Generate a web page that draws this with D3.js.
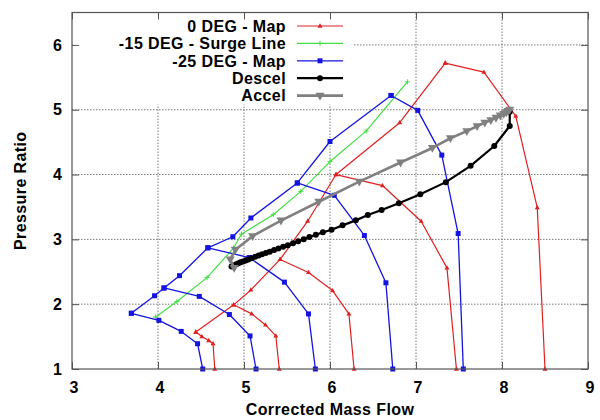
<!DOCTYPE html>
<html>
<head>
<meta charset="utf-8">
<script src="https://cdn.jsdelivr.net/npm/d3@7"></script>
<style>
  html, body { margin: 0; padding: 0; background: #fff; }
  svg { display: block; }
  text { font-family: "Liberation Sans", Arial, Helvetica, sans-serif; font-weight: bold; fill: #000; }
</style>
</head>
<body>
<svg id="chart" width="600" height="420"></svg>
<script>
// Axis ticks
const xTicks = [3, 4, 5, 6, 7, 8, 9];
const yTicks = [1, 2, 3, 4, 5, 6];

// 0 DEG compressor map: surge line and constant-speed lines
const deg0SurgeX = [4.44, 4.88, 5.08, 5.42, 5.74, 6.07, 6.81, 7.34];
const deg0SurgeY = [1.57, 1.99, 2.22, 2.69, 3.28, 4.00, 4.80, 5.72];
const deg0Speed1X = [4.44, 4.51, 4.59, 4.64, 4.66];
const deg0Speed1Y = [1.57, 1.50, 1.44, 1.39, 1.00];
const deg0Speed2X = [4.88, 5.09, 5.25, 5.37, 5.41];
const deg0Speed2Y = [1.99, 1.85, 1.68, 1.51, 1.00];
const deg0Speed3X = [5.42, 5.75, 6.03, 6.22, 6.28];
const deg0Speed3Y = [2.69, 2.49, 2.21, 1.85, 1.00];
const deg0Speed4X = [6.07, 6.61, 7.06, 7.36, 7.47];
const deg0Speed4Y = [4.00, 3.83, 3.28, 2.56, 1.00];
const deg0Speed5X = [7.34, 7.79, 8.16, 8.41, 8.50];
const deg0Speed5Y = [5.72, 5.58, 4.90, 3.49, 1.00];

// -15 DEG surge line
const deg15SurgeX = [3.97, 4.22, 4.57, 4.88, 4.97, 5.34, 5.66, 6.00, 6.42, 6.90];
const deg15SurgeY = [1.80, 2.04, 2.41, 2.87, 3.08, 3.38, 3.74, 4.20, 4.67, 5.43];

// -25 DEG compressor map: surge line and constant-speed lines
const deg25SurgeX = [3.69, 3.96, 4.07, 4.25, 4.58, 4.87, 5.08, 5.62, 6.00, 6.71];
const deg25SurgeY = [1.86, 2.13, 2.25, 2.44, 2.87, 3.04, 3.33, 3.87, 4.51, 5.22];
const deg25Speed1X = [3.69, 4.01, 4.27, 4.46, 4.52];
const deg25Speed1Y = [1.86, 1.75, 1.58, 1.39, 1.00];
const deg25Speed2X = [4.07, 4.48, 4.83, 5.07, 5.14];
const deg25Speed2Y = [2.25, 2.12, 1.84, 1.51, 1.00];
const deg25Speed3X = [4.58, 5.06, 5.47, 5.75, 5.83];
const deg25Speed3Y = [2.87, 2.72, 2.34, 1.85, 1.00];
const deg25Speed4X = [5.62, 6.05, 6.40, 6.65, 6.73];
const deg25Speed4Y = [3.87, 3.68, 3.06, 2.33, 1.00];
const deg25Speed5X = [6.71, 7.02, 7.30, 7.49, 7.55];
const deg25Speed5Y = [5.22, 4.99, 4.30, 3.09, 1.00];

// Deceleration transient
const descelX = [8.09, 8.09, 7.91, 7.635, 7.347, 7.05, 6.80, 6.60, 6.44, 6.30, 6.146, 6.018,
  5.917, 5.835, 5.76, 5.695, 5.63, 5.57, 5.51, 5.455, 5.40, 5.35, 5.30, 5.255, 5.21, 5.17,
  5.13, 5.09, 5.05, 5.02, 4.99, 4.96, 4.935, 4.91, 4.89, 4.87, 4.855];
const descelY = [4.97, 4.75, 4.44, 4.135, 3.883, 3.697, 3.557, 3.453, 3.375, 3.293, 3.216, 3.149,
  3.108, 3.07, 3.035, 3.00, 2.97, 2.94, 2.91, 2.885, 2.86, 2.835, 2.81, 2.79, 2.77, 2.75,
  2.73, 2.71, 2.69, 2.675, 2.66, 2.645, 2.63, 2.615, 2.60, 2.59, 2.58];

// Acceleration transient
const accelX = [4.885, 4.84, 4.90, 5.10, 5.43, 5.87, 6.34, 6.82, 7.19, 7.40, 7.59, 7.71,
  7.80, 7.87, 7.93, 7.98, 8.02, 8.05, 8.07, 8.09];
const accelY = [2.56, 2.69, 2.84, 3.05, 3.29, 3.58, 3.89, 4.185, 4.41, 4.56, 4.67, 4.745,
  4.80, 4.84, 4.875, 4.91, 4.935, 4.96, 4.98, 5.00];

const seriesNames = ["0 DEG - Map", "-15 DEG - Surge Line", "-25 DEG - Map", "Descel", "Accel"];

const zip = (xs, ys) => xs.map((x, i) => [x, ys[i]]);

const series = [
  { name: seriesNames[0], color: "#e02020", width: 1.2, marker: "tri", msize: 5,
    parts: [zip(deg0SurgeX, deg0SurgeY), zip(deg0Speed1X, deg0Speed1Y), zip(deg0Speed2X, deg0Speed2Y),
            zip(deg0Speed3X, deg0Speed3Y), zip(deg0Speed4X, deg0Speed4Y), zip(deg0Speed5X, deg0Speed5Y)] },
  { name: seriesNames[1], color: "#44dd44", width: 1.2, marker: "plus", msize: 5,
    parts: [zip(deg15SurgeX, deg15SurgeY)] },
  { name: seriesNames[2], color: "#1414e0", width: 1.3, marker: "square", msize: 5,
    parts: [zip(deg25SurgeX, deg25SurgeY), zip(deg25Speed1X, deg25Speed1Y), zip(deg25Speed2X, deg25Speed2Y),
            zip(deg25Speed3X, deg25Speed3Y), zip(deg25Speed4X, deg25Speed4Y), zip(deg25Speed5X, deg25Speed5Y)] },
  { name: seriesNames[3], color: "#000000", width: 2.2, marker: "circle", msize: 6,
    parts: [zip(descelX, descelY)] },
  { name: seriesNames[4], color: "#808080", width: 2.6, marker: "tridown", msize: 9,
    parts: [zip(accelX, accelY)] }
];

const svg = d3.select("#chart");
const L = 72, R = 588, T = 12.5, B = 369;
const x = d3.scaleLinear().domain([3, 9]).range([L, R]);
const y = d3.scaleLinear().domain([1, 6.5]).range([B, T]);

// Marker shapes centred on the origin
function markerPath(type, s) {
  const h = s / 2;
  switch (type) {
    case "tri": { const t = s * 0.866; return `M0,${-t * 0.62}L${h},${t * 0.38}L${-h},${t * 0.38}Z`; }
    case "tridown": { const t = s * 0.866; return `M0,${t * 0.62}L${h},${-t * 0.38}L${-h},${-t * 0.38}Z`; }
    case "square": return `M${-h},${-h}H${h}V${h}H${-h}Z`;
    case "plus": return `M${-h},0H${h}M0,${-h}V${h}`;
    case "circle": return d3.symbol(d3.symbolCircle, Math.PI * h * h)();
  }
}
function drawMarker(g, type, s, color, cx, cy) {
  const p = g.append("path").attr("d", markerPath(type, s))
    .attr("transform", `translate(${cx},${cy})`);
  if (type === "plus") p.attr("fill", "none").attr("stroke", color).attr("stroke-width", 1);
  else p.attr("fill", color).attr("stroke", "none");
}

// Grid
const grid = svg.append("g").attr("stroke", "#7a7a7a").attr("stroke-width", 1)
  .attr("stroke-dasharray", "1.5,1.5");
xTicks.filter(v => v > 3 && v < 9).forEach(v => {
  grid.append("line").attr("x1", x(v)).attr("x2", x(v)).attr("y1", B).attr("y2", T);
});
yTicks.filter(v => v > 1).forEach(v => {
  grid.append("line").attr("x1", L).attr("x2", R).attr("y1", y(v)).attr("y2", y(v));
});

// Opaque key box
svg.append("rect").attr("x", L + 1).attr("y", T + 1).attr("width", 280).attr("height", 91).attr("fill", "#fff");

// Data
const line = d3.line().x(d => x(d[0])).y(d => y(d[1]));
series.forEach(s => {
  const g = svg.append("g");
  s.parts.forEach(pts => {
    g.append("path").attr("d", line(pts)).attr("fill", "none")
      .attr("stroke", s.color).attr("stroke-width", s.width).attr("stroke-linejoin", "round");
  });
  s.parts.forEach(pts => pts.forEach(p => drawMarker(g, s.marker, s.msize, s.color, x(p[0]), y(p[1]))));
});

// Key
const key = svg.append("g");
series.forEach((s, i) => {
  const ry = 26 + i * 17.4;
  key.append("text").attr("x", 286).attr("y", ry + 5.8).attr("text-anchor", "end")
    .attr("font-size", 16).attr("letter-spacing", 0.4).text(s.name);
  key.append("line").attr("x1", 297).attr("x2", 343).attr("y1", ry).attr("y2", ry)
    .attr("stroke", s.color).attr("stroke-width", s.width);
  drawMarker(key, s.marker, s.msize, s.color, 320, ry);
});

// Axes with inward ticks on all four sides
const axisStyle = g => {
  g.selectAll(".domain").remove();
  g.selectAll(".tick line").attr("stroke", "#555");
  g.selectAll("text").attr("font-size", 16).attr("font-family", null).attr("fill", "#000");
};
svg.append("g").attr("transform", `translate(0,${B})`)
  .call(d3.axisBottom(x).tickValues(xTicks).tickSize(-7).tickPadding(13).tickFormat(d3.format("d")))
  .call(axisStyle).selectAll("text").attr("dx", 1.5);
svg.append("g").attr("transform", `translate(${L},0)`)
  .call(d3.axisLeft(y).tickValues(yTicks).tickSize(-7).tickPadding(10).tickFormat(d3.format("d")))
  .call(axisStyle);
svg.append("g").attr("transform", `translate(0,${T})`)
  .call(d3.axisTop(x).tickValues(xTicks).tickSize(-7).tickFormat(""))
  .call(axisStyle);
svg.append("g").attr("transform", `translate(${R},0)`)
  .call(d3.axisRight(y).tickValues(yTicks).tickSize(-7).tickFormat(""))
  .call(axisStyle);

// Frame
svg.append("rect").attr("x", L).attr("y", T).attr("width", R - L).attr("height", B - T)
  .attr("fill", "none").attr("stroke", "#555").attr("stroke-width", 1.2);

// Axis titles
svg.append("text").attr("x", (L + R) / 2).attr("y", 415).attr("text-anchor", "middle")
  .attr("font-size", 16).attr("letter-spacing", 0.4).text("Corrected Mass Flow");
svg.append("text").attr("transform", `translate(26,${(T + B) / 2}) rotate(-90)`)
  .attr("text-anchor", "middle").attr("font-size", 16).attr("letter-spacing", 0.4).text("Pressure Ratio");
</script>
</body>
</html>
